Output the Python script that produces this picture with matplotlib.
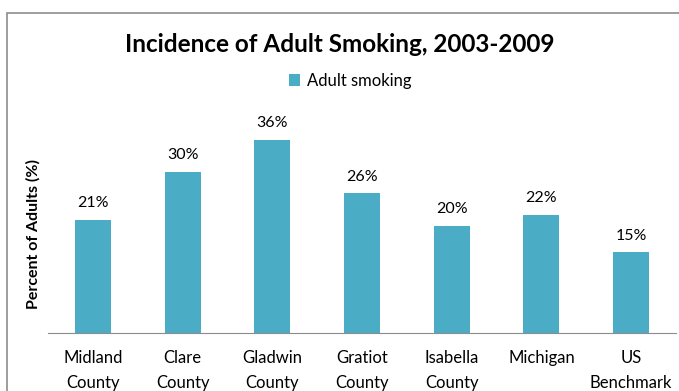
import matplotlib
matplotlib.use("Agg")
import matplotlib.pyplot as plt
from matplotlib.patches import Rectangle

categories = ["Midland\nCounty", "Clare\nCounty", "Gladwin\nCounty", "Gratiot\nCounty",
              "Isabella\nCounty", "Michigan", "US\nBenchmark"]
smoking = [21, 30, 36, 26, 20, 22, 15]
series_name = "Adult smoking"

plt.rcParams['font.family'] = ['Lato', 'DejaVu Sans']

fig = plt.figure(figsize=(6.79, 3.91), dpi=100)
# outer chart frame (cut off at right and bottom like the reference)
fig.patches.append(Rectangle((7 / 679, -0.1), 1.0, 1 - 13 / 391 + 0.1,
                             transform=fig.transFigure, fill=False,
                             edgecolor="#8c8c8c", lw=1.2))

ax = fig.add_axes([48 / 679, 58 / 391, 628 / 679, 215 / 391])
x = range(len(categories))
bars = ax.bar(x, smoking, width=0.40, color="#4BACC6", label=series_name)
for xi, v in zip(x, smoking):
    ax.annotate(f"{v}%", (xi, v), xytext=(0, 7), textcoords="offset points",
                ha="center", va="bottom", fontsize=11.5)

ax.set_xlim(-0.5, len(categories) - 0.5)
ax.set_ylim(0, 40)
ax.set_yticks([])
ax.set_xticks(list(x))
ax.set_xticklabels(categories, fontsize=12, linespacing=1.75)
ax.tick_params(axis="x", length=0, pad=12)
for s in ["top", "right", "left"]:
    ax.spines[s].set_visible(False)
ax.spines["bottom"].set_color("#8c8c8c")

ax.set_ylabel("Percent of Adults (%)", fontsize=11.5, fontweight="bold")
ax.yaxis.set_label_coords(-7 / 628, 0.46)

fig.text(0.5, 1 - 44 / 391, "Incidence of Adult Smoking, 2003-2009",
         ha="center", va="center", fontsize=17.5, fontweight="bold")
fig.legend(handles=[bars], labels=[series_name], loc="center",
           bbox_to_anchor=(350 / 679, 1 - 81 / 391), frameon=False,
           fontsize=12, handlelength=0.7, handleheight=0.7, handletextpad=0.4)

fig.savefig("out.png", dpi=100)
